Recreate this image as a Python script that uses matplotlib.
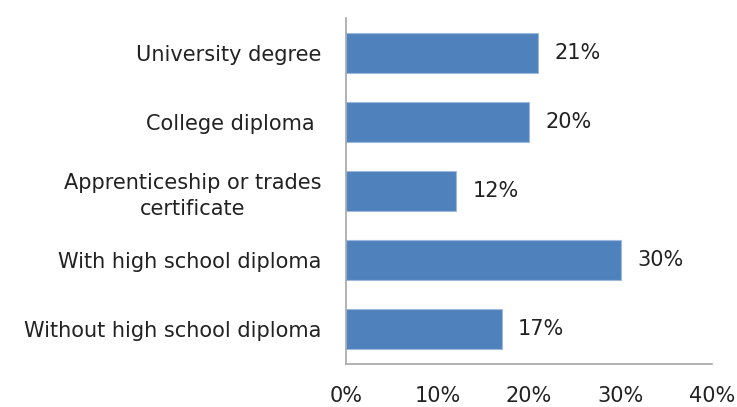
import matplotlib.pyplot as plt
import numpy as np

categories = ['Without high school diploma', 'With high school diploma',
              'Apprenticeship or trades\ncertificate', 'College diploma ', 'University degree']
values = [17, 30, 12, 20, 21]
xticks = [0, 10, 20, 30, 40]

plt.rcParams['font.family'] = ['DejaVu Sans']

fig = plt.figure(figsize=(7.37, 4.07), dpi=100)
ax = fig.add_axes([346 / 737, 1 - 364 / 407, 366 / 737, 346 / 407])

y = np.arange(len(categories))
ax.barh(y, values, height=0.58, color='#4F81BD', edgecolor='#9DB9DE', linewidth=0.8)

for yi, v in zip(y, values):
    ax.text(v + 1.8, yi, f'{v}%', va='center', ha='left', fontsize=15, color='#222222')

ax.set_xlim(0, 40)
ax.set_ylim(-0.5, len(categories) - 0.5)
ax.set_xticks(xticks)
ax.set_xticklabels([f'{t}%' for t in xticks])
ax.set_yticks(y)
ax.set_yticklabels(categories, linespacing=1.35)
ax.tick_params(axis='x', length=0, pad=16, labelsize=15, colors='#222222')
ax.tick_params(axis='y', length=0, pad=18, labelsize=15, colors='#222222')
for lab in ax.get_yticklabels():
    lab.set_multialignment('center')

for side in ['top', 'right']:
    ax.spines[side].set_visible(False)
for side in ['left', 'bottom']:
    ax.spines[side].set_color('#A6A6A6')
    ax.spines[side].set_linewidth(1.2)

plt.savefig('out.png', dpi=100)
